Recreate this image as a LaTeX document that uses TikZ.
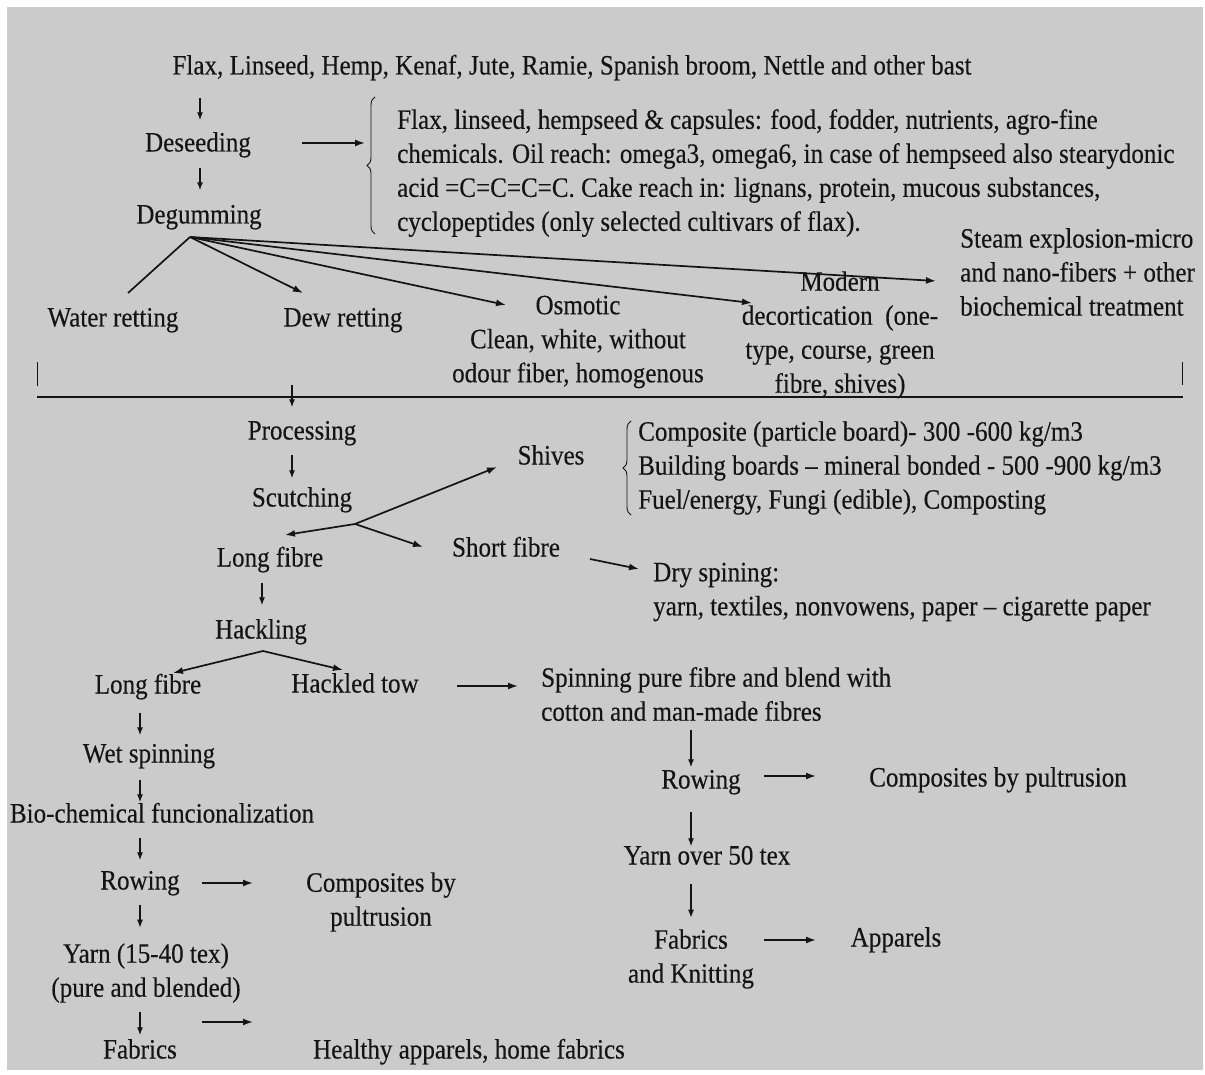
\documentclass[tikz,border=0pt]{standalone}
\usepackage{fontspec}
\setmainfont{Liberation Serif}[FakeStretch=0.895,FakeBold=0.25]
\usetikzlibrary{arrows.meta,decorations.pathreplacing,calc}
\definecolor{ink}{HTML}{141414}
\definecolor{bg}{HTML}{CBCBCB}
\begin{document}
\begin{tikzpicture}[x=1pt,y=-1pt,
  tb/.style={inner sep=0pt, font=\fontsize{28}{34}\selectfont, text=ink},
  t/.style={tb, text height=19pt, text depth=6pt},
  tl/.style={tb, align=left},
  tc/.style={tb, align=center},
  arr/.style={-{Latex[length=10pt,width=7pt]}, line width=1.7pt, draw=ink},
  sarr/.style={-{Latex[length=8pt,width=6pt]}, line width=1.2pt, draw=ink},
  ln/.style={line width=1.7pt, draw=ink},
  thinln/.style={line width=0.9pt, draw=ink},
  bracedec/.style={thinln, decorate, decoration={brace, amplitude=8pt}},
]
\useasboundingbox (0,0) rectangle (1205,1075);
\fill[white] (0,0) rectangle (1205,1075);
\fill[bg] (7,7) rectangle (1203,1070);

% vertical guides
\coordinate (gA) at (200,0);
\coordinate (gB) at (292,0);
\coordinate (gC) at (262,0);
\coordinate (gD) at (140,0);
\coordinate (gE) at (691,0);

% ---------- upper part ----------
\node[t] (title) at (572,68) {Flax, Linseed, Hemp, Kenaf, Jute, Ramie, Spanish broom, Nettle and other bast};
\node[t] (deseed) at (198,145) {Deseeding};
\node[t] (degum) at (199,217) {Degumming};
\draw[sarr, shorten <=17pt, shorten >=12pt] (title.south -| gA) -- (deseed.north -| gA);
\draw[sarr, shorten <=10pt, shorten >=14pt] (deseed.south -| gA) -- (degum.north -| gA);

\node[tl, anchor=west] (seeds) at (397,173) {Flax, linseed, hempseed \& capsules: food, fodder, nutrients, agro-fine\\
chemicals. Oil reach: omega3, omega6, in case of hempseed also stearydonic\\
acid =C=C=C=C. Cake reach in: lignans, protein, mucous substances,\\
cyclopeptides (only selected cultivars of flax).};
\draw[bracedec] (375,234) -- (375,97);
\coordinate (bracein) at (365,143);
\draw[arr] ($(deseed)+(104,-2)$) -- (bracein);

\coordinate (apex) at (190,237);
\node[t] (water) at (113,320) {Water retting};
\node[t] (dew) at (343,320) {Dew retting};
\node[tc] (osm) at (578,342) {Osmotic\\Clean, white, without\\odour fiber, homogenous};
\node[tc] (modern) at (840,335) {Modern\\decortication~~(one-\\type, course, green\\fibre, shives)};
\node[tl, anchor=west] (steam) at (960,272) {Steam explosion-micro\\and nano-fibers + other\\biochemical treatment};

\coordinate (waterend) at (128,293);
\coordinate (dewend) at (303,293);
\coordinate (osmend) at (506,305);
\coordinate (modend) at (752,303);
\coordinate (steamend) at (936,281);
\draw[ln] (apex) -- (waterend);
\draw[arr] (apex) -- (dewend);
\draw[arr] (apex) -- (osmend);
\draw[arr] (apex) -- (modend);
\draw[arr] (apex) -- (steamend);

% divider
\coordinate (divL) at (37,397);
\coordinate (divR) at (1183,397);
\draw[ln] (divL) -- (divR);
\draw[thinln] (37,362) -- (37,386);
\draw[thinln] (1182,362) -- (1182,385);

% ---------- lower part ----------
\node[t] (proc) at (302,433) {Processing};
\coordinate (procin) at (292,385);
\draw[sarr, shorten >=13pt] (procin) -- (proc.north -| gB);
\node[t] (scut) at (302,500) {Scutching};
\draw[sarr, shorten <=9pt, shorten >=9pt] (proc.south -| gB) -- (scut.north -| gB);

\node[t] (shives) at (551,458) {Shives};
\node[t] (lf1) at (270,560) {Long fibre};
\node[t] (sf) at (506,550) {Short fibre};
\coordinate (scfork) at (355,524);
\draw[arr] (scfork) -- (285,535);
\draw[arr] (scfork) -- (497,467);
\draw[arr] (scfork) -- (423,547);

\draw[bracedec] (631,515) -- (631,421);
\node[tl, anchor=west] (shivuse) at (638,468) {Composite (particle board)- 300 -600 kg/m3\\
Building boards -- mineral bonded - 500 -900 kg/m3\\
Fuel/energy, Fungi (edible), Composting};

\node[tl, anchor=west] (dry) at (653,592) {Dry spining:\\yarn, textiles, nonvowens, paper -- cigarette paper};
\draw[arr] ($(sf)+(84,9)$) -- ++(49,10);

\node[t] (hack) at (261,632) {Hackling};
\draw[sarr, shorten <=10pt, shorten >=14pt] (lf1.south -| gC) -- (hack.north -| gC);
\node[t] (lf2) at (148,687) {Long fibre};
\node[t] (tow) at (355,686) {Hackled tow};
\coordinate (hkfork) at (263,651);
\draw[arr] (hkfork) -- (173,673);
\draw[arr] (hkfork) -- (343,670);

\node[tl, anchor=west] (spin) at (541,694) {Spinning pure fibre and blend with\\cotton and man-made fibres};
\draw[arr] ($(tow)+(102,0)$) -- ++(61,0);

\node[t] (wet) at (149,756) {Wet spinning};
\draw[sarr, shorten <=13pt, shorten >=8pt] (lf2.south -| gD) -- (wet.north -| gD);
\node[t] (bio) at (162,816) {Bio-chemical funcionalization};
\draw[sarr, shorten <=11pt, shorten >=1pt] (wet.south -| gD) -- (bio.north -| gD);
\node[t] (row1) at (140,883) {Rowing};
\draw[sarr, shorten <=9pt, shorten >=10pt] (bio.south -| gD) -- (row1.north -| gD);
\node[tc] (comp1) at (381,902) {Composites by\\pultrusion};
\draw[arr] ($(row1)+(62,0)$) -- ++(51,0);
\node[tc] (yarn1) at (146,973) {Yarn (15-40 tex)\\(pure and blended)};
\draw[sarr] ($(row1.south -| gD)+(0,9)$) -- ++(0,23);
\node[t] (fab1) at (140,1052) {Fabrics};
\draw[sarr] ($(fab1.north -| gD)+(0,-27)$) -- ++(0,23);
\node[t] (health) at (469,1052) {Healthy apparels, home fabrics};
\draw[arr] ($(fab1)+(62,-30)$) -- ++(51,0);

\node[t] (row2) at (701,782) {Rowing};
\draw[sarr] ($(row2.north -| gE)+(0,-39)$) -- ++(0,37);
\node[t] (comp2) at (998,780) {Composites by pultrusion};
\draw[arr] ($(row2)+(63,-6)$) -- ++(52,0);
\node[t] (yarn2) at (707,858) {Yarn over 50 tex};
\draw[sarr, shorten <=17pt, shorten >=-1pt] (row2.south -| gE) -- (yarn2.north -| gE);
\node[tc] (fab2) at (691,959) {Fabrics\\and Knitting};
\draw[sarr] ($(yarn2.south -| gE)+(0,13)$) -- ++(0,34);
\node[t] (app) at (896,940) {Apparels};
\draw[arr] ($(fab2)+(73,-19)$) -- ++(52,0);
\end{tikzpicture}
\end{document}
